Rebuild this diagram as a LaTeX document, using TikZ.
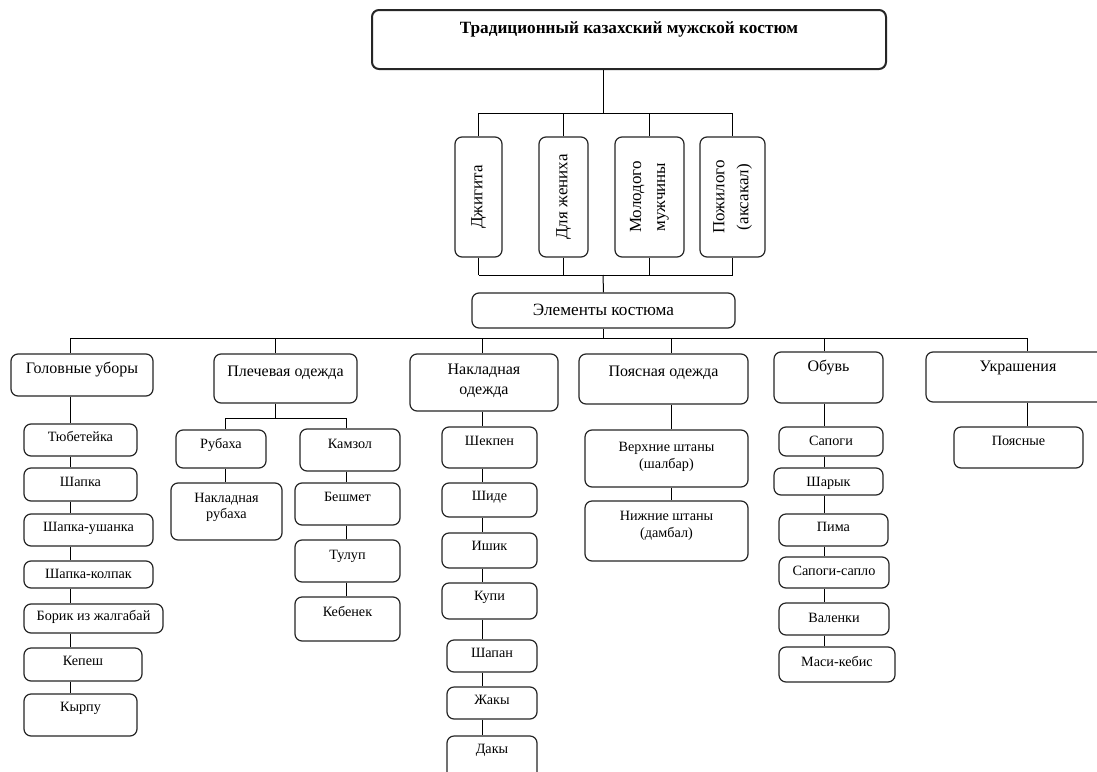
\documentclass[tikz,border=0pt]{standalone}
\usepackage{fontspec}
\setmainfont{Liberation Serif}
\tikzset{
  box/.style={draw=black!85, line width=1.2pt, rounded corners=7pt, inner sep=0pt, font=\fontsize{14.2}{16.5}\selectfont},
  cat/.style={font=\fontsize{16}{20}\selectfont},
  titlebox/.style={line width=2pt, font=\fontsize{17.2}{20}\selectfont\bfseries},
  elbox/.style={font=\fontsize{17.2}{20}\selectfont},
  vbox/.style={box, rotate=90, align=center, font=\fontsize{17}{24}\selectfont},
  conn/.style={draw=black, line width=1pt},
}
\newcommand\mybox[8]{%
  \pgfmathsetmacro\bxw{#4-#2}%
  \pgfmathsetmacro\bxh{#5-#3}%
  \pgfmathsetmacro\bxcx{(#2+#4)/2}%
  \pgfmathsetmacro\bxcy{-(#3+#5)/2}%
  \pgfmathsetmacro\bxdy{(#3+#5)/2-#6}%
  \node[box,#7,minimum width=\bxw pt,minimum height=\bxh pt] (#1) at (\bxcx pt,\bxcy pt)
    {\raisebox{\bxdy pt}[\height][\depth]{\begin{tabular}{@{}c@{}}#8\end{tabular}}};%
}
\begin{document}
\begin{tikzpicture}[x=1pt,y=1pt]
\useasboundingbox (0,0) rectangle (1097,-771);
\clip (0,0) rectangle (1097,-771);
\fill[white] (0,0) rectangle (1097,-771);
% title and groups
\mybox{title}{372}{10}{886}{69}{29}{titlebox}{Традиционный казахский мужской костюм}
\node[vbox, minimum width=120pt, minimum height=47pt] (v1) at (478.5,-197) {Джигита};
\node[vbox, minimum width=120pt, minimum height=49pt] (v2) at (563.5,-197) {Для жениха};
\node[vbox, minimum width=120pt, minimum height=69pt] (v3) at (649.5,-197) {Молодого\\мужчины};
\node[vbox, minimum width=120pt, minimum height=65pt] (v4) at (732.5,-197) {Пожилого\\(аксакал)};
\mybox{el}{472}{293}{735}{328}{311}{elbox}{Элементы костюма}
% categories
\mybox{gol}{11}{354}{153}{396}{369}{cat}{Головные уборы}
\mybox{ple}{214}{354}{357}{403}{372}{cat}{Плечевая одежда}
\mybox{nak}{410}{354}{558}{411}{380}{cat}{Накладная\\одежда}
\mybox{poy}{579}{354}{748}{404}{372}{cat}{Поясная одежда}
\mybox{obu}{774}{352}{883}{403}{367}{cat}{Обувь}
\mybox{ukr}{926}{352}{1110}{402}{367}{cat}{Украшения}
% column 1
\mybox{g1}{24}{424}{137}{456}{438}{}{Тюбетейка}
\mybox{g2}{24}{468}{137}{501}{483}{}{Шапка}
\mybox{g3}{24}{514}{153}{546}{528}{}{Шапка-ушанка}
\mybox{g4}{24}{561}{153}{588}{575}{}{Шапка-колпак}
\mybox{g5}{24}{604}{163}{633}{617}{}{Борик из жалгабай}
\mybox{g6}{24}{648}{142}{681}{662}{}{Кепеш}
\mybox{g7}{24}{694}{137}{736}{708}{}{Кырпу}
% column 2
\mybox{p1}{176}{430}{266}{468}{445}{}{Рубаха}
\mybox{p2}{171}{483}{282}{540}{507}{}{Накладная\\рубаха}
\mybox{p3}{300}{429}{400}{471}{445}{}{Камзол}
\mybox{p4}{295}{483}{400}{525}{498}{}{Бешмет}
\mybox{p5}{295}{540}{400}{582}{556}{}{Тулуп}
\mybox{p6}{295}{597}{400}{641}{613}{}{Кебенек}
% column 3
\mybox{n1}{442}{427}{537}{468}{442}{}{Шекпен}
\mybox{n2}{442}{483}{537}{517}{497}{}{Шиде}
\mybox{n3}{442}{533}{537}{568}{547}{}{Ишик}
\mybox{n4}{442}{583}{537}{619}{597}{}{Купи}
\mybox{n5}{447}{640}{537}{672}{654}{}{Шапан}
\mybox{n6}{447}{687}{537}{719}{701}{}{Жакы}
\mybox{n7}{447}{736}{537}{785}{750}{}{Дакы}
% column 4
\mybox{y1}{585}{430}{748}{487}{456.5}{}{Верхние штаны\\(шалбар)}
\mybox{y2}{585}{501}{748}{561}{525.5}{}{Нижние штаны\\(дамбал)}
% column 5
\mybox{o1}{779}{427}{883}{456}{442}{}{Сапоги}
\mybox{o2}{774}{468}{883}{495}{483}{}{Шарык}
\mybox{o3}{779}{514}{888}{546}{528}{}{Пима}
\mybox{o4}{779}{557}{889}{588}{572}{}{Сапоги-сапло}
\mybox{o5}{779}{603}{889}{635}{619}{}{Валенки}
\mybox{o6}{779}{647}{895}{682}{663}{}{Маси-кебис}
% column 6
\mybox{u1}{954}{427}{1083}{468}{442}{}{Поясные}
% helper coordinates
\coordinate (tx) at (603,0);
\coordinate (tb) at (0,-113);
\coordinate (bb) at (0,-275);
\coordinate (cb) at (0,-338);
\coordinate (sb) at (0,-418);
\coordinate (c1) at (70,0);
\coordinate (c2) at (275,0);
\coordinate (c2a) at (225,0);
\coordinate (c2b) at (346,0);
\coordinate (c3) at (482,0);
\coordinate (c4) at (671,0);
\coordinate (c5) at (824,0);
\coordinate (c6) at (1027,0);
% top connectors
\draw[conn] (title.south -| tx) -- (tx |- tb);
\draw[conn] (v1.east |- tb) -- (v4.east |- tb);
\foreach \v in {v1,v2,v3,v4} {
  \draw[conn] (\v.east |- tb) -- (\v.east);
  \draw[conn] (\v.west) -- (\v.west |- bb);
}
\draw[conn] (v1.west |- bb) -- (v4.west |- bb);
\draw[conn] (tx |- bb) -- (el.north);
\draw[conn] (el.south) -- (el.south |- cb);
\draw[conn] (c1 |- cb) -- (c6 |- cb);
\draw[conn] (c1 |- cb) -- (gol.north -| c1);
\draw[conn] (c2 |- cb) -- (ple.north -| c2);
\draw[conn] (c3 |- cb) -- (nak.north -| c3);
\draw[conn] (c4 |- cb) -- (poy.north -| c4);
\draw[conn] (c5 |- cb) -- (obu.north -| c5);
\draw[conn] (c6 |- cb) -- (ukr.north -| c6);
% column chains
\draw[conn] (gol.south -| c1) -- (g1.north -| c1);
\foreach \a/\b in {g1/g2,g2/g3,g3/g4,g4/g5,g5/g6,g6/g7}
  \draw[conn] (\a.south -| c1) -- (\b.north -| c1);
\draw[conn] (ple.south -| c2) -- (c2 |- sb);
\draw[conn] (c2a |- sb) -- (c2b |- sb);
\draw[conn] (c2a |- sb) -- (p1.north -| c2a);
\draw[conn] (c2b |- sb) -- (p3.north -| c2b);
\draw[conn] (p1.south -| c2a) -- (p2.north -| c2a);
\foreach \a/\b in {p3/p4,p4/p5,p5/p6}
  \draw[conn] (\a.south -| c2b) -- (\b.north -| c2b);
\draw[conn] (nak.south -| c3) -- (n1.north -| c3);
\foreach \a/\b in {n1/n2,n2/n3,n3/n4,n4/n5,n5/n6,n6/n7}
  \draw[conn] (\a.south -| c3) -- (\b.north -| c3);
\draw[conn] (poy.south -| c4) -- (y1.north -| c4);
\draw[conn] (y1.south -| c4) -- (y2.north -| c4);
\draw[conn] (obu.south -| c5) -- (o1.north -| c5);
\foreach \a/\b in {o1/o2,o2/o3,o3/o4,o4/o5,o5/o6}
  \draw[conn] (\a.south -| c5) -- (\b.north -| c5);
\draw[conn] (ukr.south -| c6) -- (u1.north -| c6);
\end{tikzpicture}
\end{document}
